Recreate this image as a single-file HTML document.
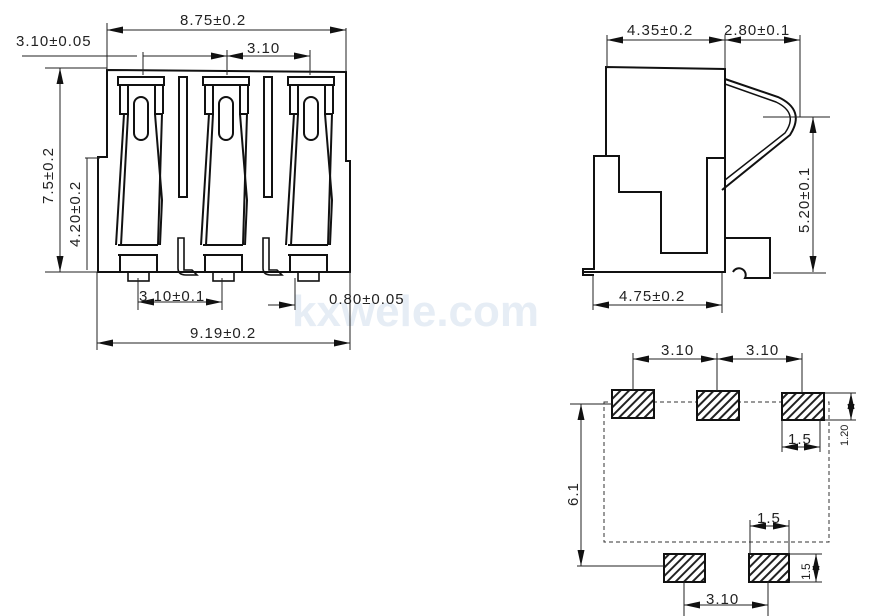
<!DOCTYPE html>
<html><head><style>
html,body{margin:0;padding:0;background:#fff;}
svg{display:block;}
text{font-family:"Liberation Sans",sans-serif;fill:#222;letter-spacing:1px;}
</style></head><body>
<svg width="896" height="616" viewBox="0 0 896 616" xmlns="http://www.w3.org/2000/svg">
<defs>
<marker id="a" viewBox="0 0 16 7" refX="16" refY="3.5" markerWidth="16" markerHeight="7" markerUnits="userSpaceOnUse" orient="auto-start-reverse">
<path d="M0,0 L16,3.5 L0,7 z" fill="#111"/></marker>
<pattern id="h" width="6" height="6" patternUnits="userSpaceOnUse" patternTransform="rotate(45)">
<rect width="6" height="6" fill="#fff"/><rect width="2" height="6" fill="#222"/></pattern>
<g id="ct" fill="none" stroke="#111" stroke-width="2">
<path d="M118,77 H164 V85 H118 Z"/>
<path d="M120,85 V114 H124 L116,245 M128,85 V114 L124,114"/>
<path d="M155,85 V114 H162 L158,245 M163,85 V114"/>
<path d="M128,114 L121,245 M155,114 L162,200 L160,245"/>
<rect x="134" y="97" width="14" height="43" rx="7"/>
<path d="M118,245 H158 M118,255 H158 M120,255 V272 M157,255 V272"/>
<rect x="128" y="272" width="21" height="9" stroke-width="1.6"/>
</g>
</defs>
<text x="292" y="326" font-size="44" style="fill:#e6edf5;letter-spacing:0" font-weight="bold">kxwele.com</text>
<g fill="none" stroke="#111" stroke-width="2">
<path d="M107,70 L346,72 V161 H350 V272 H98 V157 H107 Z"/>
<rect x="179" y="77" width="8" height="120"/>
<rect x="264" y="77" width="8" height="120"/>
<path d="M178,238 V268 Q178,275 186,275 H197 L192,270 H184 V238 Z" stroke-width="1.6"/>
<path d="M263,238 V268 Q263,275 271,275 H282 L277,270 H269 V238 Z" stroke-width="1.6"/>
</g>
<use href="#ct"/><use href="#ct" x="85"/><use href="#ct" x="170"/>
<g stroke="#222" stroke-width="1" fill="none">
<path d="M107,23 V70 M346,28 V72 M143,52 V75 M227,50 V75 M310,50 V75 M22,56 H137 M45,68 H107 M45,272 H98 M85,158 H100 M138,278 V310 M222,278 V310 M97,272 V350 M350,272 V350 M295,278 V310"/>
<path d="M107,30 H346" marker-start="url(#a)" marker-end="url(#a)"/>
<path d="M143,56 H227" marker-end="url(#a)"/>
<path d="M227,56 H310" marker-start="url(#a)" marker-end="url(#a)"/>
<path d="M60,68 V272" marker-start="url(#a)" marker-end="url(#a)"/>
<path d="M87,158 V270"/>
<path d="M138,302 H222" marker-start="url(#a)" marker-end="url(#a)"/>
<path d="M268,305 H295" marker-end="url(#a)"/>
<path d="M97,343 H350" marker-start="url(#a)" marker-end="url(#a)"/>
</g>
<g font-size="15">
<text x="180" y="25">8.75±0.2</text>
<text x="16" y="46">3.10±0.05</text>
<text x="247" y="53">3.10</text>
<text x="139" y="301">3.10±0.1</text>
<text x="329" y="304">0.80±0.05</text>
<text x="190" y="338">9.19±0.2</text>
<text transform="translate(53,204) rotate(-90)">7.5±0.2</text>
<text transform="translate(80,247) rotate(-90)">4.20±0.2</text>
</g>
<!-- side view -->
<g fill="none" stroke="#111" stroke-width="2">
<path d="M606,156 V67 L725,69 V272 H583 V269 H594 V156 H619 V192 H661 V253 H707 V158 H725"/>
<path d="M583,269 V275 H594"/>
<path d="M725,238 H770 V278 H745 A6,6 0 0 0 733,272"/>
<path d="M725,79 L778,97 Q806,110 790,135 L722,190"/>
<path d="M725,84 L776,102 Q799,113 785,133 L725,180" stroke-width="1.5"/>
</g>
<g stroke="#222" stroke-width="1" fill="none">
<path d="M607,35 V67 M725,35 V69 M800,35 V117 M763,117 H830 M773,273 H826 M593,275 V310 M722,273 V313"/>
<path d="M607,40 H725" marker-start="url(#a)" marker-end="url(#a)"/>
<path d="M725,40 H800" marker-start="url(#a)" marker-end="url(#a)"/>
<path d="M813,117 V272" marker-start="url(#a)" marker-end="url(#a)"/>
<path d="M593,305 H722" marker-start="url(#a)" marker-end="url(#a)"/>
</g>
<g font-size="15">
<text x="627" y="35">4.35±0.2</text>
<text x="724" y="35">2.80±0.1</text>
<text x="619" y="301">4.75±0.2</text>
<text transform="translate(809,233) rotate(-90)">5.20±0.1</text>
</g>
<!-- footprint -->
<rect x="604" y="402" width="225" height="140" fill="none" stroke="#333" stroke-width="1" stroke-dasharray="4,3"/>
<g fill="url(#h)" stroke="#111" stroke-width="2">
<rect x="612" y="390" width="42" height="28"/>
<rect x="697" y="391" width="42" height="29"/>
<rect x="782" y="393" width="42" height="27"/>
<rect x="664" y="554" width="41" height="28"/>
<rect x="749" y="554" width="40" height="28"/>
</g>
<g stroke="#222" stroke-width="1" fill="none">
<path d="M633,353 V390 M717,353 V391 M802,353 V393 M570,404 H612 M577,566 H664 M782,420 V452 M820,420 V452 M825,393 H856 M825,420 H856 M750,520 V554 M789,520 V554 M789,554 H822 M789,582 H822 M684,582 V616 M768,582 V616"/>
<path d="M633,359 H717" marker-start="url(#a)" marker-end="url(#a)"/>
<path d="M717,359 H802" marker-start="url(#a)" marker-end="url(#a)"/>
<path d="M581,404 V566" marker-start="url(#a)" marker-end="url(#a)"/>
<path d="M782,447 H820" marker-start="url(#a)" marker-end="url(#a)"/>
<path d="M750,526 H789" marker-start="url(#a)" marker-end="url(#a)"/>
<path d="M851,393 V420" marker-start="url(#a)" marker-end="url(#a)"/>
<path d="M816,554 V582" marker-start="url(#a)" marker-end="url(#a)"/>
<path d="M684,605 H768" marker-start="url(#a)" marker-end="url(#a)"/>
</g>
<g font-size="15">
<text x="661" y="355">3.10</text>
<text x="746" y="355">3.10</text>
<text x="788" y="444">1.5</text>
<text x="757" y="523">1.5</text>
<text x="706" y="604">3.10</text>
<text transform="translate(578,506) rotate(-90)">6.1</text>
<text transform="translate(848,446) rotate(-90)" font-size="11" style="letter-spacing:0">1.20</text>
<text transform="translate(810,580) rotate(-90)" font-size="12" style="letter-spacing:0">1.5</text>
</g>
</svg>
</body></html>
